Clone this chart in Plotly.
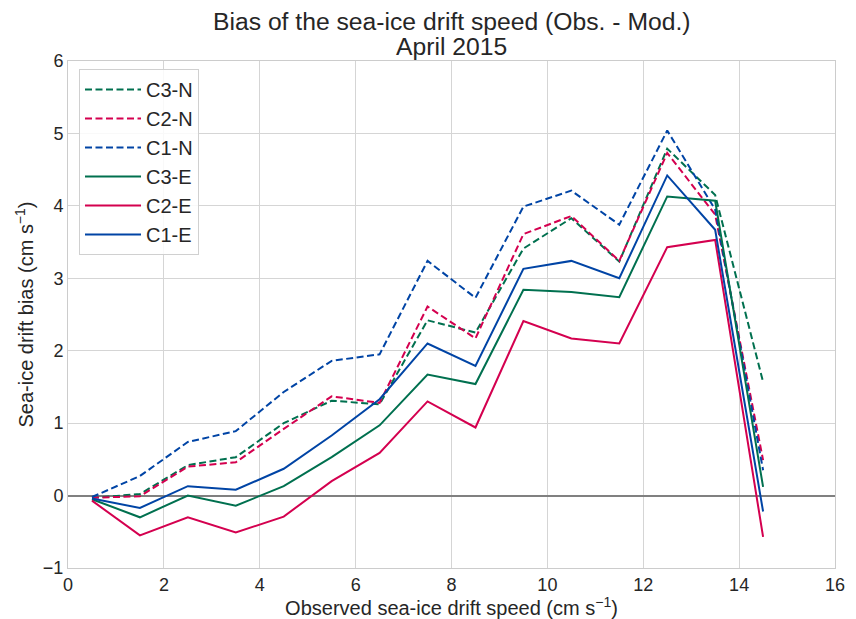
import plotly.graph_objects as go

x_speed = [0.5, 1.5, 2.5, 3.5, 4.5, 5.5, 6.5, 7.5, 8.5, 9.5, 10.5, 11.5, 12.5, 13.5, 14.5]

c3_n = [-0.03, 0.02, 0.42, 0.53, 1.00, 1.31, 1.26, 2.42, 2.25, 3.41, 3.83, 3.23, 4.79, 4.15, 1.57]
c2_n = [-0.03, -0.01, 0.40, 0.46, 0.92, 1.37, 1.28, 2.61, 2.17, 3.61, 3.86, 3.24, 4.73, 3.88, 0.49]
c1_n = [-0.02, 0.27, 0.74, 0.89, 1.43, 1.86, 1.95, 3.24, 2.73, 3.99, 4.21, 3.74, 5.04, 3.95, 0.35]
c3_e = [-0.05, -0.30, 0.00, -0.14, 0.13, 0.53, 0.97, 1.67, 1.54, 2.84, 2.81, 2.74, 4.13, 4.07, 0.12]
c2_e = [-0.07, -0.55, -0.30, -0.51, -0.29, 0.20, 0.59, 1.30, 0.94, 2.41, 2.17, 2.10, 3.43, 3.53, -0.57]
c1_e = [-0.04, -0.17, 0.13, 0.08, 0.37, 0.83, 1.33, 2.10, 1.79, 3.13, 3.24, 3.00, 4.42, 3.67, -0.22]

series_names = ["C3-N", "C2-N", "C1-N", "C3-E", "C2-E", "C1-E"]
series_vals = [c3_n, c2_n, c1_n, c3_e, c2_e, c1_e]

title_lines = ["Bias of the sea-ice drift speed (Obs. - Mod.)", "April 2015"]

green = "#00704f"
red = "#d4004f"
blue = "#0044a5"
colors = [green, red, blue, green, red, blue]
dashes = ["7px,3.5px"] * 3 + ["solid"] * 3

x_ticks = [0, 2, 4, 6, 8, 10, 12, 14, 16]
y_ticks = [-1, 0, 1, 2, 3, 4, 5, 6]

FONT = "Liberation Sans, Arial, sans-serif"
TXT = "#262626"

L, R, T, B = 68, 21, 61, 51
W, H = 856, 619
PH = H - T - B

fig = go.Figure()
for name, vals, col, d in zip(series_names, series_vals, colors, dashes):
    fig.add_trace(go.Scatter(x=x_speed, y=vals, mode="lines", name=name,
                             line=dict(color=col, width=2, dash=d)))

# two-line title as annotations (tighter line spacing than <br>)
for text, ypx in zip(title_lines, [21, 46]):
    fig.add_annotation(text=text, xref="paper", yref="paper",
                       x=0.5, y=(H - B - ypx) / PH, xanchor="center", yanchor="middle",
                       showarrow=False, font=dict(size=24.7, color=TXT, family=FONT))

fig.update_layout(
    width=W, height=H,
    margin=dict(l=L, r=R, t=T, b=B, autoexpand=False),
    paper_bgcolor="white", plot_bgcolor="white",
    font=dict(family=FONT, color=TXT, size=18),
    showlegend=True,
    legend=dict(x=(79 - L) / (W - L - R), y=(H - B - 69) / PH, xanchor="left", yanchor="top",
                bgcolor="rgba(255,255,255,0.85)", bordercolor="#d0d0d0", borderwidth=1,
                font=dict(size=20, color=TXT), tracegroupgap=0, itemwidth=56),
    xaxis=dict(range=[0, 16], tickvals=x_ticks, ticktext=[str(v) for v in x_ticks],
               showgrid=True, gridcolor="#d5d5d5", gridwidth=1, zeroline=False,
               showline=True, mirror=True, linecolor="#cccccc", linewidth=1,
               ticks="", tickfont=dict(size=18, color=TXT), automargin=False,
               title=dict(text="Observed sea-ice drift speed (cm s<sup>\u22121</sup>)",
                          font=dict(size=20, color=TXT), standoff=6)),
    yaxis=dict(range=[-1, 6], tickvals=y_ticks,
               ticktext=["\u22121"] + [str(v) for v in y_ticks[1:]],
               showgrid=True, gridcolor="#d5d5d5", gridwidth=1,
               zeroline=True, zerolinecolor="#808080", zerolinewidth=2,
               showline=True, mirror=True, linecolor="#cccccc", linewidth=1,
               ticks="", tickfont=dict(size=18, color=TXT), automargin=False,
               title=dict(text="Sea-ice drift bias (cm s<sup>\u22121</sup>)",
                          font=dict(size=20, color=TXT), standoff=3)),
)

fig.write_html("out.html", config={"displayModeBar": False},
               post_script="document.body.style.margin='0';document.body.style.overflow='hidden';")
